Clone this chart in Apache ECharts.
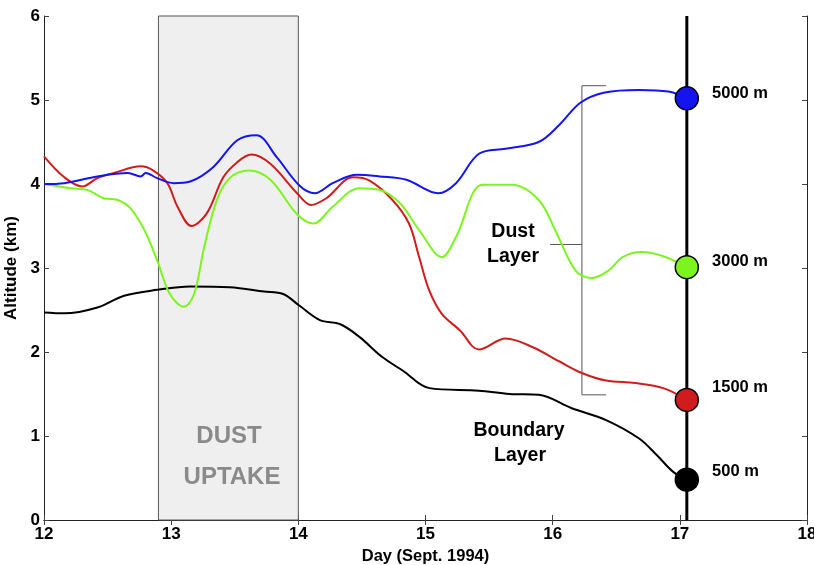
<!DOCTYPE html>
<html><head><meta charset="utf-8">
<script src="https://cdn.jsdelivr.net/npm/echarts@6/dist/echarts.min.js"></script>
<style>html,body{margin:0;padding:0;background:#fff}#c{width:814px;height:565px}</style>
</head><body><div id="c"></div>
<script>
var xTicks = [12, 13, 14, 15, 16, 17, 18];
var yTicks = [0, 1, 2, 3, 4, 5, 6];
var uptakeSpan = [12.90, 14.0];
var profileDay = 17.055;
var bracketTop = 5.17, bracketBottom = 1.49, bracketMid = 3.28;
var bracketX = 16.23, bracketRight = 16.42, bracketMidLeft = 15.98;

var series5000 = [[12.0,4.0],[12.16,4.01],[12.42,4.09],[12.66,4.13],[12.76,4.09],[12.80,4.13],[12.89,4.07],[13.02,4.01],[13.15,4.03],[13.33,4.20],[13.52,4.52],[13.67,4.58],[13.83,4.32],[14.01,3.98],[14.13,3.89],[14.27,4.01],[14.46,4.11],[14.64,4.09],[14.85,4.05],[15.10,3.89],[15.24,4.01],[15.42,4.36],[15.63,4.42],[15.89,4.50],[16.05,4.70],[16.22,4.97],[16.41,5.09],[16.68,5.12],[16.91,5.10],[17.055,5.02]];
var series3000 = [[12.0,4.0],[12.21,3.95],[12.34,3.93],[12.47,3.83],[12.58,3.81],[12.68,3.71],[12.79,3.45],[12.89,3.09],[12.99,2.69],[13.10,2.54],[13.18,2.69],[13.26,3.25],[13.36,3.81],[13.46,4.07],[13.61,4.16],[13.78,4.05],[13.99,3.64],[14.12,3.53],[14.27,3.73],[14.48,3.95],[14.64,3.93],[14.80,3.77],[14.95,3.45],[15.13,3.13],[15.24,3.37],[15.45,3.99],[15.68,3.99],[15.89,3.81],[16.02,3.45],[16.18,2.97],[16.31,2.88],[16.44,2.97],[16.55,3.13],[16.70,3.19],[16.87,3.14],[17.055,3.01]];
var series1500 = [[12.0,4.33],[12.16,4.08],[12.30,3.97],[12.42,4.07],[12.55,4.13],[12.76,4.21],[12.86,4.16],[12.97,4.01],[13.05,3.73],[13.16,3.50],[13.28,3.65],[13.41,4.08],[13.52,4.26],[13.63,4.35],[13.78,4.24],[13.99,3.89],[14.10,3.75],[14.22,3.83],[14.43,4.08],[14.56,4.04],[14.74,3.81],[14.87,3.53],[14.95,3.13],[15.03,2.73],[15.13,2.45],[15.27,2.26],[15.42,2.03],[15.63,2.16],[15.84,2.06],[16.05,1.89],[16.23,1.75],[16.42,1.66],[16.65,1.63],[16.87,1.57],[17.055,1.43]];
var series500 = [[12.0,2.47],[12.16,2.46],[12.42,2.53],[12.63,2.67],[12.89,2.74],[13.15,2.78],[13.46,2.77],[13.73,2.72],[13.88,2.69],[14.01,2.55],[14.17,2.38],[14.33,2.33],[14.48,2.18],[14.66,1.94],[14.82,1.78],[15.03,1.57],[15.42,1.54],[15.66,1.50],[15.89,1.49],[16.15,1.33],[16.42,1.19],[16.68,0.97],[16.82,0.77],[16.95,0.57],[17.055,0.48]];
var startLabels = ['5000 m', '3000 m', '1500 m', '500 m'];
var startAlts = [5.02, 3.01, 1.43, 0.48];
var startColors = ['#1414f0', '#7cf51e', '#d01c1c', '#000000'];
var labelShift = [-5, -6, -12, -8];

var FONT = '"Liberation Sans", Arial, sans-serif';
var chart = echarts.init(document.getElementById('c'));

function axisX(pos, show) {
  return {type:'value', position:pos, min:12, max:18, interval:1,
    axisLine:{show:true, lineStyle:{color:'#222', width:1}},
    axisTick:{show:true, inside:true, length:5, lineStyle:{color:'#444'}},
    splitLine:{show:false},
    axisLabel:{show:show, color:'#000', fontWeight:'bold', fontSize:17, fontFamily:FONT, margin:6},
    name: show ? 'Day (Sept. 1994)' : '', nameLocation:'middle', nameGap:26,
    nameTextStyle:{color:'#000', fontWeight:'bold', fontSize:16.5, fontFamily:FONT}};
}
function axisY(pos, show) {
  return {type:'value', position:pos, min:0, max:6, interval:1,
    axisLine:{show:true, lineStyle:{color:'#222', width:1}},
    axisTick:{show:true, inside:true, length:5, lineStyle:{color:'#444'}},
    splitLine:{show:false},
    axisLabel:{show:show, color:'#000', fontWeight:'bold', fontSize:17, fontFamily:FONT, margin:4},
    name: show ? 'Altitude (km)' : '', nameLocation:'middle', nameGap:17,
    nameTextStyle:{color:'#000', fontWeight:'bold', fontSize:17, fontFamily:FONT}};
}

var lineBase = {type:'line', showSymbol:false, smooth:0.35, silent:true, z:3};
var textZ = 20;
chart.setOption({
  animation:false,
  grid:{left:44, right:7, top:16, bottom:45, containLabel:false, outerBoundsMode:'none'},
  xAxis:[axisX('bottom', true), axisX('top', false)],
  yAxis:[axisY('left', true), axisY('right', false)],
  series:[
    {type:'line', data:[], silent:true, z:1,
     markArea:{silent:true, itemStyle:{color:'#efefef', borderColor:'#555', borderWidth:1},
       data:[[{xAxis:uptakeSpan[0], yAxis:0},{xAxis:uptakeSpan[1], yAxis:6}]]}},
    Object.assign({}, lineBase, {data:series500, lineStyle:{color:'#000', width:2}}),
    Object.assign({}, lineBase, {data:series1500, lineStyle:{color:startColors[2], width:2}}),
    Object.assign({}, lineBase, {data:series3000, lineStyle:{color:startColors[1], width:2}}),
    Object.assign({}, lineBase, {data:series5000, lineStyle:{color:startColors[0], width:2}}),
    {type:'line', showSymbol:false, silent:true, z:2, data:[[profileDay,0],[profileDay,6]],
     lineStyle:{color:'#000', width:3}},
    {type:'line', showSymbol:false, silent:true, z:2,
     data:[[bracketRight,bracketTop],[bracketX,bracketTop],[bracketX,bracketBottom],[bracketRight,bracketBottom]],
     lineStyle:{color:'#555', width:1}},
    {type:'line', showSymbol:false, silent:true, z:2,
     data:[[bracketMidLeft,bracketMid],[bracketX,bracketMid]],
     lineStyle:{color:'#555', width:1}},
    {type:'scatter', silent:true, z:5, symbolSize:23,
     data:startAlts.map(function(a,i){return {value:[profileDay,a], itemStyle:{color:startColors[i]},
       label:{formatter:startLabels[i], offset:[0, labelShift[i]]}};}),
     itemStyle:{borderColor:'#000', borderWidth:1.5, opacity:1},
     label:{show:true, position:'right', distance:13, color:'#000', fontWeight:'bold', fontSize:16.5, fontFamily:FONT}}
  ],
  graphic:[
    {type:'text', z:textZ, x:229, y:436, style:{text:'DUST', fill:'#8a8a8a', font:'bold 24px '+FONT, align:'center', verticalAlign:'middle'}},
    {type:'text', z:textZ, x:232, y:477, style:{text:'UPTAKE', fill:'#8a8a8a', font:'bold 24px '+FONT, align:'center', verticalAlign:'middle'}},
    {type:'text', z:textZ, x:513, y:232, style:{text:'Dust', fill:'#000', font:'bold 19.5px '+FONT, align:'center', verticalAlign:'middle'}},
    {type:'text', z:textZ, x:513, y:257, style:{text:'Layer', fill:'#000', font:'bold 19.5px '+FONT, align:'center', verticalAlign:'middle'}},
    {type:'text', z:textZ, x:519, y:431, style:{text:'Boundary', fill:'#000', font:'bold 19.5px '+FONT, align:'center', verticalAlign:'middle'}},
    {type:'text', z:textZ, x:520, y:456, style:{text:'Layer', fill:'#000', font:'bold 19.5px '+FONT, align:'center', verticalAlign:'middle'}}
  ]
});
</script></body></html>
